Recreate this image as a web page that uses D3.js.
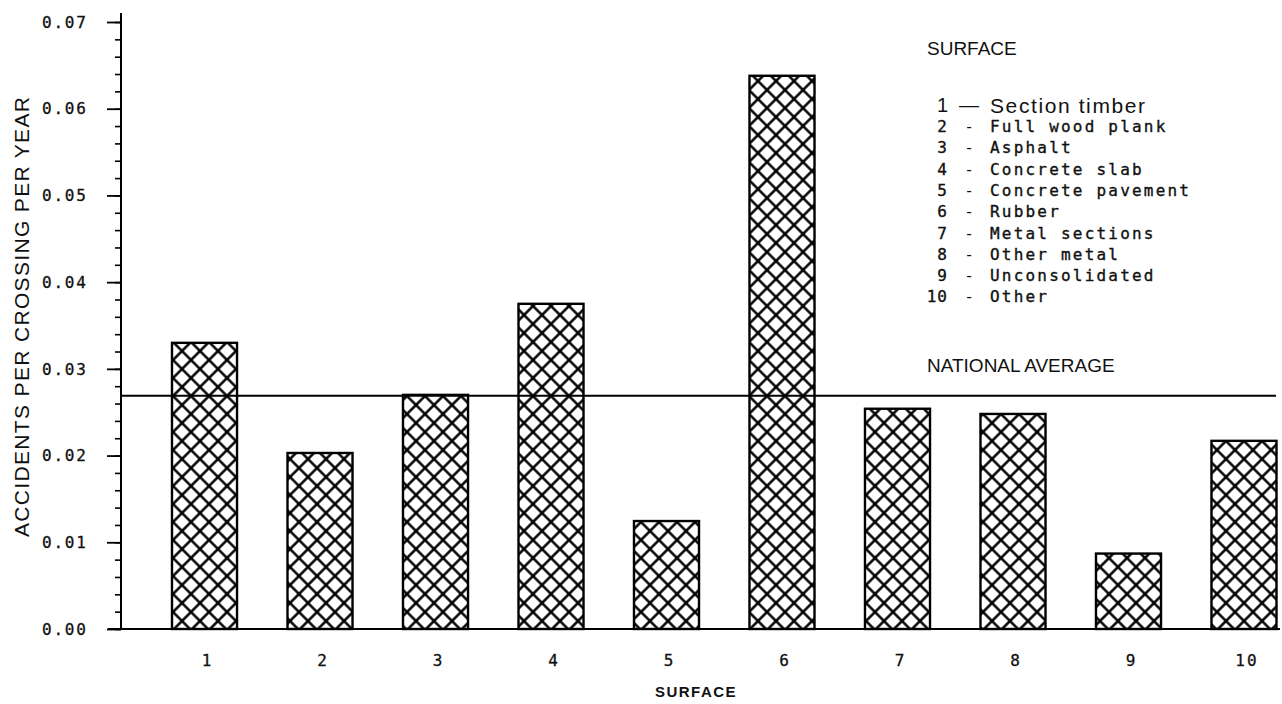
<!DOCTYPE html>
<html>
<head>
<meta charset="utf-8">
<script src="https://cdn.jsdelivr.net/npm/d3@7"></script>
<style>
  html, body { margin: 0; padding: 0; background: #fff; }
  svg { display: block; }
  .mono { font-family: "DejaVu Sans Mono", "Liberation Mono", monospace; fill: #111; }
  .sans { font-family: "Liberation Sans", Arial, sans-serif; fill: #111; }
</style>
</head>
<body>
<svg id="chart" width="1282" height="704"></svg>
<script>
// ---- data ----
const categories = ["1", "2", "3", "4", "5", "6", "7", "8", "9", "10"];
const values = [0.0330, 0.0203, 0.0270, 0.0375, 0.01245, 0.0638, 0.0254, 0.0248, 0.0087, 0.0217];
const nationalAverage = 0.0269;
const yTickValues = [0, 0.01, 0.02, 0.03, 0.04, 0.05, 0.06, 0.07];
const yTickLabels = ["0.00", "0.01", "0.02", "0.03", "0.04", "0.05", "0.06", "0.07"];
const legendNumbers = ["1", "2", "3", "4", "5", "6", "7", "8", "9", "10"];
const legendLabels = ["Section timber", "Full wood plank", "Asphalt", "Concrete slab",
  "Concrete pavement", "Rubber", "Metal sections", "Other metal", "Unconsolidated", "Other"];
const yTitle = "ACCIDENTS PER CROSSING PER YEAR";
const xTitle = "SURFACE";
const legendTitle = "SURFACE";
const avgLabel = "NATIONAL AVERAGE";

// ---- layout ----
const svg = d3.select("#chart");
const axisX = 121;
const x = d3.scaleBand().domain(categories).range([172, 1276.5]).paddingInner(0.437).paddingOuter(0);
const y = d3.scaleLinear().domain([0, 0.07]).range([629, 22]);

// hatch pattern
const defs = svg.append("defs");
const s = 18 / Math.SQRT2;
const pat = defs.append("pattern")
  .attr("id", "hatch")
  .attr("patternUnits", "userSpaceOnUse")
  .attr("width", s).attr("height", s)
  .attr("patternTransform", "translate(2,0) rotate(45)");
pat.append("rect").attr("width", s).attr("height", s).attr("fill", "#fff");
pat.append("path")
  .attr("d", `M0,${s/2} H${s} M${s/2},0 V${s}`)
  .attr("stroke", "#000").attr("stroke-width", 2.5).attr("fill", "none");

// bars
svg.append("g").selectAll("rect")
  .data(values)
  .join("rect")
  .attr("x", (d, i) => x(categories[i]))
  .attr("y", d => y(d))
  .attr("width", x.bandwidth())
  .attr("height", d => y(0) - y(d))
  .attr("fill", "url(#hatch)")
  .attr("stroke", "#000")
  .attr("stroke-width", 2.4);

// national average line
svg.append("line")
  .attr("x1", axisX).attr("x2", 1276)
  .attr("y1", y(nationalAverage)).attr("y2", y(nationalAverage))
  .attr("stroke", "#000").attr("stroke-width", 1.8);

// baseline
svg.append("line")
  .attr("x1", 108).attr("x2", 1280)
  .attr("y1", y(0)).attr("y2", y(0))
  .attr("stroke", "#000").attr("stroke-width", 2);

// y axis via d3.axisLeft
const minorTicks = d3.range(0, 70.5, 2).map(v => v / 1000);
const yMinor = d3.axisLeft(y).tickValues(minorTicks).tickSize(6).tickFormat("");
const gMinor = svg.append("g").attr("transform", `translate(${axisX},0)`).call(yMinor);
gMinor.select(".domain").remove();
gMinor.selectAll(".tick line").attr("stroke", "#000").attr("stroke-width", 1.6);

const yMajor = d3.axisLeft(y).tickValues(yTickValues).tickSize(14).tickFormat("");
const gMajor = svg.append("g").attr("transform", `translate(${axisX},0)`).call(yMajor);
gMajor.select(".domain").remove();
gMajor.selectAll(".tick line").attr("stroke", "#000").attr("stroke-width", 1.8);

svg.append("line")
  .attr("x1", axisX).attr("x2", axisX)
  .attr("y1", y(0) + 1).attr("y2", y(0.07) - 9)
  .attr("stroke", "#000").attr("stroke-width", 2);

// y tick labels
svg.append("g").selectAll("text")
  .data(yTickValues)
  .join("text")
  .attr("class", "mono")
  .attr("x", 42)
  .attr("y", d => y(d))
  .attr("dy", "0.36em")
  .style("font-size", "16px")
  .style("letter-spacing", "1.8px")
  .attr("stroke", "#111").attr("stroke-width", 0.3)
  .text((d, i) => yTickLabels[i]);

// x tick labels
svg.append("g").selectAll("text")
  .data(categories)
  .join("text")
  .attr("class", "mono")
  .attr("x", d => x(d) + x.bandwidth() / 2 + 3)
  .attr("y", 660)
  .attr("dy", "0.36em")
  .attr("text-anchor", "middle")
  .style("font-size", "16px")
  .style("letter-spacing", "2px")
  .attr("stroke", "#111").attr("stroke-width", 0.3)
  .text(d => d);

// x title
svg.append("text")
  .attr("class", "sans")
  .attr("x", 696).attr("y", 692)
  .attr("dy", "0.36em")
  .attr("text-anchor", "middle")
  .style("font-size", "15px")
  .style("font-weight", "bold")
  .style("letter-spacing", "1.5px")
  .text(xTitle);

// y title
svg.append("text")
  .attr("class", "sans")
  .attr("transform", `translate(29,317) rotate(-90)`)
  .attr("text-anchor", "middle")
  .style("font-size", "21px")
  .attr("textLength", 440)
  .attr("lengthAdjust", "spacing")
  .text(yTitle);

// legend
svg.append("text")
  .attr("class", "sans")
  .attr("x", 927).attr("y", 55)
  .style("font-size", "19px")
  .text(legendTitle);

const rowY = i => 105 + i * 21.3;
const lg = svg.append("g");
legendNumbers.forEach((n, i) => {
  const first = i === 0;
  lg.append("text")
    .attr("class", first ? "sans" : "mono")
    .attr("x", 948).attr("y", rowY(i)).attr("dy", "0.36em")
    .attr("text-anchor", "end")
    .style("font-size", first ? "20px" : "16px")
    .style("letter-spacing", first ? "0px" : "1px")
    .attr("stroke", first ? "none" : "#111").attr("stroke-width", 0.35)
    .text(n);
  lg.append("text")
    .attr("class", first ? "sans" : "mono")
    .attr("x", 969).attr("y", rowY(i)).attr("dy", "0.36em")
    .attr("text-anchor", "middle")
    .style("font-size", first ? "20px" : "16px")
    .text(first ? "\u2014" : "-");
  lg.append("text")
    .attr("class", first ? "sans" : "mono")
    .attr("x", 990).attr("y", rowY(i)).attr("dy", "0.36em")
    .style("font-size", first ? "21px" : "16px")
    .style("letter-spacing", first ? "1.6px" : "2.2px")
    .attr("stroke", first ? "none" : "#111").attr("stroke-width", 0.35)
    .text(legendLabels[i]);
});

svg.append("text")
  .attr("class", "sans")
  .attr("x", 927).attr("y", 372)
  .style("font-size", "19px")
  .text(avgLabel);
</script>
</body>
</html>
